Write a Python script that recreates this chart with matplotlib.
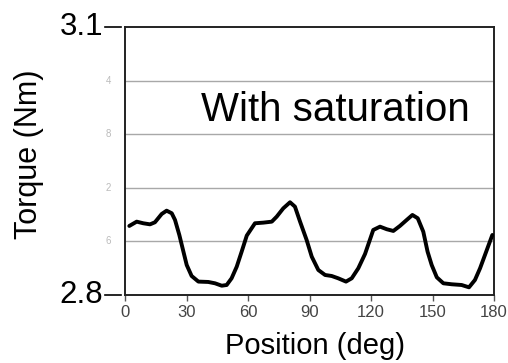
import matplotlib
matplotlib.use("Agg")
import matplotlib.pyplot as plt
import numpy as np

plt.rcParams['font.family'] = ['Liberation Sans', 'DejaVu Sans']

position_deg = [2.1, 5.7, 8.9, 12.2, 14.6, 17.9, 20.3, 22.8, 24.4, 26.5, 28.5, 30.1,
                32.5, 35.8, 40.6, 43.9, 47.2, 49.6, 52.0, 54.5, 56.9, 59.4, 63.4,
                67.5, 71.6, 74.0, 77.2, 80.5, 82.9, 85.4, 88.6, 91.1, 94.3, 97.6,
                100.8, 104.0, 107.8, 110.6, 113.8, 117.1, 121.1, 124.4, 127.7, 130.9,
                134.1, 137.4, 140.2, 142.8, 145.5, 147.6, 149.6, 152.1, 155.3, 159.4,
                164.2, 167.8, 170.7, 173.2, 175.6, 179.2]
torque_nm = [2.8773, 2.8821, 2.8803, 2.8791, 2.8814, 2.8907, 2.8944, 2.8915, 2.8840,
             2.8672, 2.8485, 2.8336, 2.8213, 2.8150, 2.8146, 2.8131, 2.8104, 2.8112,
             2.8187, 2.8317, 2.8485, 2.8665, 2.8803, 2.8810, 2.8821, 2.8877, 2.8970,
             2.9038, 2.8989, 2.8821, 2.8616, 2.8429, 2.8280, 2.8224, 2.8213, 2.8187,
             2.8150, 2.8187, 2.8299, 2.8460, 2.8728, 2.8765, 2.8736, 2.8717, 2.8773,
             2.8840, 2.8896, 2.8859, 2.8709, 2.8485, 2.8336, 2.8198, 2.8131, 2.8120,
             2.8112, 2.8086, 2.8168, 2.8299, 2.8448, 2.8672]
x_ticks = [0, 30, 60, 90, 120, 150, 180]
grid_values = [2.86, 2.92, 2.98, 3.04]
grid_fragments = ['6', '2', '8', '4']

W, H = 508, 363
fig = plt.figure(figsize=(W / 100, H / 100), dpi=100)
ax = fig.add_axes([125 / W, 1 - 295 / H, (494 - 125) / W, (295 - 27) / H])

ax.set_xlim(0, 180)
ax.set_ylim(2.8, 3.1)
for g in grid_values:
    ax.axhline(g, color='#a8a8a8', lw=1.0, zorder=1)

ax.plot(position_deg, torque_nm, color='black', lw=2.8, zorder=3,
        solid_joinstyle='round', solid_capstyle='round')

for s in ax.spines.values():
    s.set_linewidth(1.4)
    s.set_color('#222222')

ax.set_xticks(x_ticks)
ax.set_xticklabels([str(t) for t in x_ticks], fontsize=12, color='#444444')
ax.tick_params(axis='x', length=4, width=1, color='#555555', pad=3)
ax.set_yticks([])

# partially cut gridline tick labels
for g, frag in zip(grid_values, grid_fragments):
    ax.text(-0.045, g, frag, transform=ax.get_yaxis_transform(), fontsize=7,
            color='#bbbbbb', ha='center', va='center')

# big overlay end labels
ax.text(-0.06, 3.1, '3.1', transform=ax.get_yaxis_transform(), fontsize=22.5,
        ha='right', va='center', color='black')
ax.text(-0.06, 2.8, '2.8', transform=ax.get_yaxis_transform(), fontsize=22.5,
        ha='right', va='center', color='black')
ax.plot([-0.055, -0.01], [3.1, 3.1], transform=ax.get_yaxis_transform(),
        color='black', lw=1.2, clip_on=False)
ax.plot([-0.055, -0.01], [2.8, 2.8], transform=ax.get_yaxis_transform(),
        color='black', lw=1.2, clip_on=False)

ax.text(0.57, 0.69, 'With saturation', transform=ax.transAxes, fontsize=29,
        ha='center', va='center')

fig.text(315 / W, 1 - 346 / H, 'Position (deg)', fontsize=21, ha='center', va='center')
fig.text(29 / W, 1 - 154 / H, 'Torque (Nm)', fontsize=22, ha='center', va='center',
         rotation=90)

fig.savefig('out.png', dpi=100)
